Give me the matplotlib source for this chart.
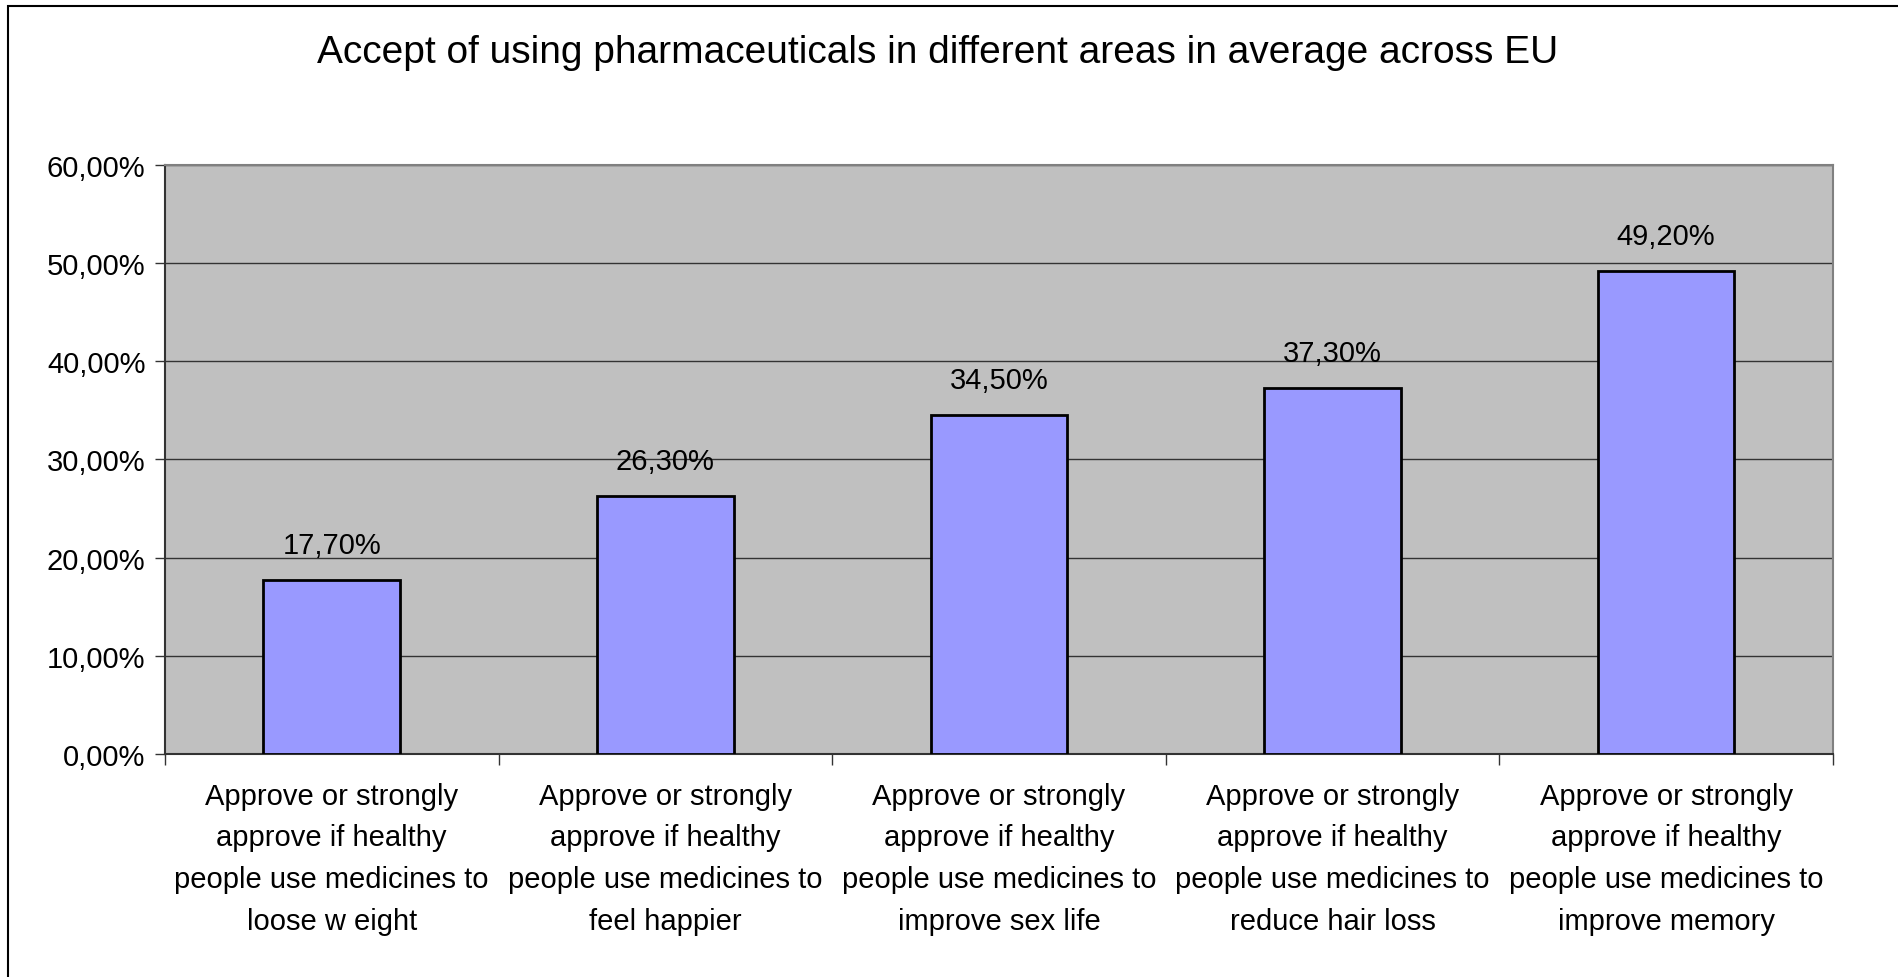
import matplotlib.pyplot as plt
from matplotlib.patches import Rectangle
import numpy as np

# data
categories = [
    'Approve or strongly\napprove if healthy\npeople use medicines to\nloose w eight',
    'Approve or strongly\napprove if healthy\npeople use medicines to\nfeel happier',
    'Approve or strongly\napprove if healthy\npeople use medicines to\nimprove sex life',
    'Approve or strongly\napprove if healthy\npeople use medicines to\nreduce hair loss',
    'Approve or strongly\napprove if healthy\npeople use medicines to\nimprove memory',
]
values = [17.7, 26.3, 34.5, 37.3, 49.2]
y_ticks = [0, 10, 20, 30, 40, 50, 60]
title = 'Accept of using pharmaceuticals in different areas in average across EU'

plt.rcParams['font.family'] = ['Liberation Sans', 'DejaVu Sans']

def pct(v):
    return f'{v:.2f}'.replace('.', ',') + '%'

fig = plt.figure(figsize=(18.98, 9.78), dpi=100)
ax = fig.add_axes([0.0869, 0.228, 0.8788, 0.6023])

x = np.arange(len(values))
ax.set_facecolor('#C0C0C0')
ax.bar(x, values, width=0.41, color='#9999FF', edgecolor='black', linewidth=2, zorder=3)

ax.set_xlim(-0.5, len(values) - 0.5)
ax.set_ylim(0, 60)
ax.set_yticks(y_ticks)
ax.set_yticklabels([pct(v) for v in y_ticks], fontsize=21)
ax.yaxis.grid(True, color='#333333', linewidth=1)
ax.set_axisbelow(True)

# x ticks sit on the category boundaries, labels in the middle
ax.set_xticks(np.arange(-0.5, len(values), 1.0))
ax.set_xticklabels([])
ax.set_xticks(x, minor=True)
ax.set_xticklabels(categories, minor=True, fontsize=21, linespacing=1.62)
ax.tick_params(axis='x', which='minor', length=0, pad=20)
ax.tick_params(axis='x', which='major', length=8, width=1, color='#333333')
ax.tick_params(axis='y', length=7, width=1, color='#333333', pad=7)

for s in ax.spines.values():
    s.set_color('#808080')
    s.set_linewidth(1.5)
ax.spines['bottom'].set_color('#333333')
ax.spines['left'].set_color('#333333')

for xi, v in zip(x, values):
    ax.annotate(pct(v), (xi, v), xytext=(0, 15), textcoords='offset points',
                ha='center', va='bottom', fontsize=21)

fig.text(0.494, 0.936, title, ha='center', va='baseline', fontsize=28)

# chart border (only left and top visible in the reference)
fig.add_artist(Rectangle((8 / 1898, -0.5), 2.0, 0.5 + 1 - 7 / 978,
                         transform=fig.transFigure, fill=False,
                         edgecolor='black', linewidth=1.5))

fig.savefig('out.png', dpi=100)
